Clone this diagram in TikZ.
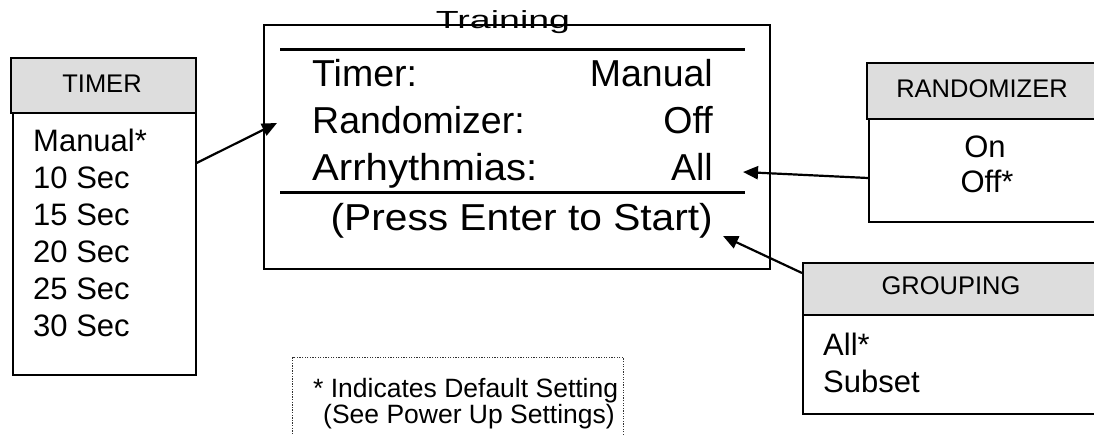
\documentclass[tikz,border=0pt]{standalone}
\usepackage{fontspec}
\setmainfont{Liberation Sans}
\usetikzlibrary{arrows.meta,calc}
\begin{document}
\begin{tikzpicture}[x=1pt,y=-1pt,
  hdr/.style={draw=black,line width=1.6pt,fill=hdrgray,anchor=north west,inner sep=0pt},
  bodybox/.style={draw=black,line width=1.6pt,anchor=north west,inner sep=0pt},
  hdrtext/.style={font=\fontsize{25.5}{30}\selectfont,inner sep=0pt,anchor=base},
  item/.style={font=\fontsize{31}{37}\selectfont,inner sep=0pt},
  lcd/.style={font=\fontsize{37.5}{44}\selectfont,inner sep=0pt},
  rule/.style={line width=3pt},
  conn/.style={line width=2.2pt,-{Triangle[length=15pt,width=13pt]}},
  note/.style={font=\fontsize{26.5}{30}\selectfont,inner sep=0pt,anchor=base west}]
\definecolor{hdrgray}{HTML}{DDDDDD}
\useasboundingbox (0,0) rectangle (1094,435);

% ---------- TIMER ----------
\node[hdr,minimum width=185pt,minimum height=55pt] (timerhdr) at (10,57) {};
\node[hdrtext] (timerlbl) at (102,93) {TIMER};
\node[bodybox,minimum width=183pt,minimum height=262pt] (timerbody) at (12,112) {};
\foreach \t [count=\i] in {Manual*,10 Sec,15 Sec,20 Sec,25 Sec,30 Sec}
  \node[item,anchor=base west] (timer\i) at (33,{152+37*(\i-1)}) {\t};

% ---------- SCREEN ----------
\node[bodybox,minimum width=506pt,minimum height=244pt] (screen) at (263,24) {};
\node[lcd,anchor=base] (title) at (503,29) {\scalebox{1}[0.66]{Training}};
\coordinate (r1a) at (280,50);  \coordinate (r1b) at (745,50);
\coordinate (r2a) at (280,193); \coordinate (r2b) at (745,193);
\draw[rule] (r1a) -- (r1b);
\draw[rule] (r2a) -- (r2b);
\node[lcd,anchor=base west] (l1) at (312,87) {Timer:};
\node[lcd,anchor=base east] (v1) at (713,87) {Manual};
\node[lcd,anchor=base west] (l2) at (312,134) {Randomizer:};
\node[lcd,anchor=base east] (v2) at (713,134) {Off};
\node[lcd,anchor=base west] (l3) at (312,181) {\scalebox{1.07}[1]{Arrhythmias:}};
\node[lcd,anchor=base east] (v3) at (713,181) {All};
\node[lcd,anchor=base east] (l4) at (713,231) {\scalebox{1.085}[1]{(Press Enter to Start)}};

% ---------- RANDOMIZER ----------
\node[hdr,minimum width=240pt,minimum height=56pt] (randhdr) at (866,62) {};
\node[hdrtext] (randlbl) at (982,98) {RANDOMIZER};
\node[bodybox,minimum width=238pt,minimum height=103pt] (randbody) at (868,118) {};
\node[item,anchor=base] (on) at (985,158) {On};
\node[item,anchor=base] (off) at (987,193) {Off*};

% ---------- GROUPING ----------
\node[hdr,minimum width=304pt,minimum height=52pt] (grphdr) at (802,262) {};
\node[hdrtext] (grplbl) at (951,295) {GROUPING};
\node[bodybox,minimum width=304pt,minimum height=99pt] (grpbody) at (802,314) {};
\node[item,anchor=base west] (all) at (823,355) {All*};
\node[item,anchor=base west] (subset) at (823,392) {Subset};

% ---------- NOTE ----------
\node[draw=black!80,line width=1.3pt,dash pattern=on 1.3pt off 1.3pt,anchor=north west,
      minimum width=331pt,minimum height=100pt,inner sep=0pt] (notebox) at (292,357) {};
\node[note] (note1) at (313,397) {* Indicates Default Setting};
\node[note] (note2) at (323,423) {(See Power Up Settings)};

% ---------- CONNECTORS ----------
\coordinate (tfrom) at ($(timerbody.north east)+(0,51)$);
\coordinate (tto) at (277,123);
\draw[conn] (tfrom) -- (tto);
\coordinate (rfrom) at ($(randbody.north west)+(0,60)$);
\coordinate (rto) at (743,172);
\draw[conn] (rfrom) -- (rto);
\coordinate (gfrom) at ($(grphdr.north west)+(0,11)$);
\coordinate (gto) at (723,236);
\draw[conn] (gfrom) -- (gto);
\end{tikzpicture}
\end{document}
